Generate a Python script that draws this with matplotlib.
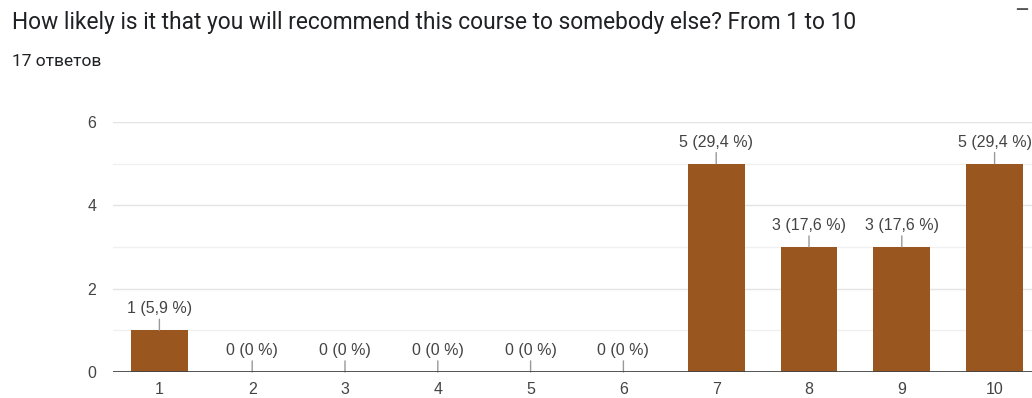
import matplotlib.pyplot as plt

categories = ["1", "2", "3", "4", "5", "6", "7", "8", "9", "10"]
counts = [1, 0, 0, 0, 0, 0, 5, 3, 3, 5]
total = 17
title = "How likely is it that you will recommend this course to somebody else? From 1 to 10"
subtitle = "17 ответов"


def fmt_label(n):
    pct = round(n / total * 100, 1)
    if pct == int(pct):
        pct_txt = str(int(pct))
    else:
        pct_txt = f"{pct:.1f}".replace(".", ",")
    return f"{n} ({pct_txt} %)"


def main():
    plt.rcParams['font.family'] = ['Roboto', 'DejaVu Sans']
    chart_font = ['Liberation Sans', 'DejaVu Sans']
    W, H = 1032, 398
    fig = plt.figure(figsize=(W / 100, H / 100), dpi=100)

    fig.text(12 / W, 1 - 23 / H, title, fontsize=16.4, color="#202124", va="center", ha="left")
    fig.text(12 / W, 1 - 62 / H, subtitle, fontsize=12.5, color="#202124", va="center", ha="left")
    fig.text(1022 / W, 1 - 11 / H, "—", fontsize=12, fontweight="bold", color="#555555",
             va="center", ha="center")

    left, right, top, bottom = 113, 1041, 122, 372
    ax = fig.add_axes([left / W, 1 - bottom / H, (right - left) / W, (bottom - top) / H])

    x = list(range(len(categories)))
    ax.bar(x, counts, width=0.61, color="#99561f", zorder=3)

    for xi, n in zip(x, counts):
        ax.annotate(fmt_label(n), xy=(xi, n), xytext=(0, 10), textcoords="offset points",
                    ha="center", va="bottom", fontsize=11.5, color="#444444",
                    family=chart_font,
                    arrowprops=dict(arrowstyle="-", color="#999999", lw=1,
                                    shrinkA=0, shrinkB=0),
                    annotation_clip=False, zorder=4)

    ax.set_xlim(-0.5, len(categories) - 0.5)
    ax.set_ylim(0, 6)
    for y in range(1, 7):
        ax.axhline(y, color="#e4e4e4" if y % 2 == 0 else "#f0f0f0", lw=1, zorder=1)
    ax.axhline(0, color="#444444", lw=2, zorder=5)

    ax.set_xticks(x)
    ax.set_xticklabels(categories)
    ax.set_yticks([0, 2, 4, 6])
    ax.tick_params(length=0, labelsize=11.5, labelcolor="#444444")
    ax.tick_params(axis="y", pad=12)
    ax.tick_params(axis="x", pad=7)
    for lbl in ax.get_xticklabels() + ax.get_yticklabels():
        lbl.set_family(chart_font)
    for s in ax.spines.values():
        s.set_visible(False)

    fig.savefig("out.png", dpi=100)
    plt.close(fig)


if __name__ == "__main__":
    main()
